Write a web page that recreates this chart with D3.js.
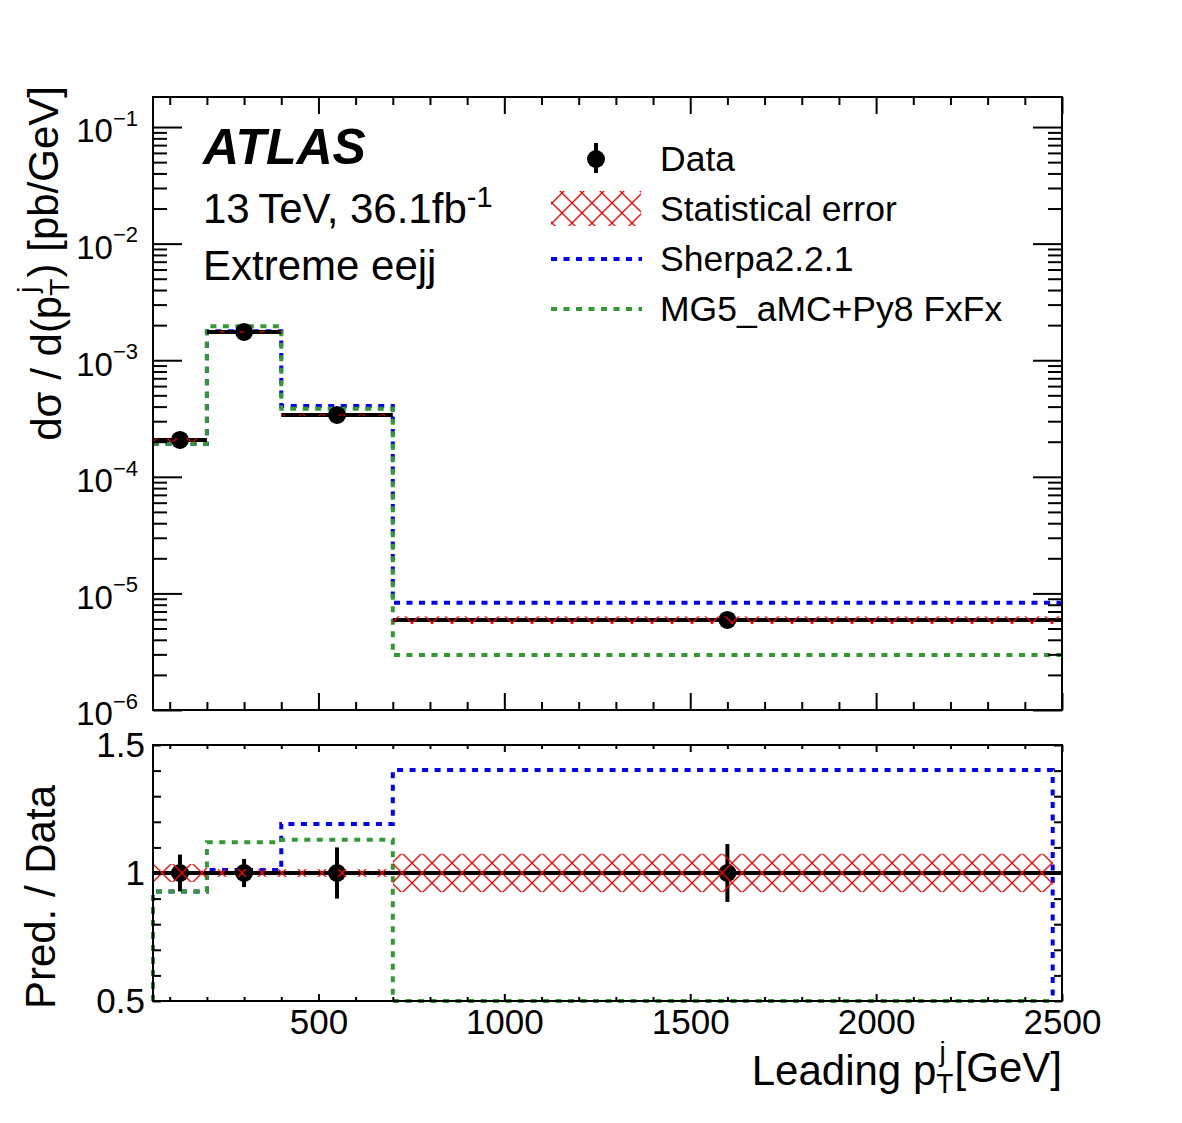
<!DOCTYPE html>
<html>
<head>
<meta charset="utf-8">
<script src="https://cdn.jsdelivr.net/npm/d3@7"></script>
<style>
body { margin: 0; background: #fff; }
text { font-family: "Liberation Sans", Arial, Helvetica, sans-serif; fill: #000; }
</style>
</head>
<body>
<div id="chart"></div>
<script>
// bins in leading jet pT [GeV]
const binEdges = [55, 200, 400, 700, 2500];
const dataValues = [2.07e-4, 1.75e-3, 3.39e-4, 5.92e-6];
const dataTotalErr = [0.072, 0.055, 0.10, 0.113];   // relative
const dataStatErr = [0.035, 0.015, 0.015, 0.075];   // relative
const sherpaValues = [1.92e-4, 1.77e-3, 4.04e-4, 8.3e-6];
const mg5Values = [1.92e-4, 1.96e-3, 3.83e-4, 2.96e-6];
const logExponents = [-6, -5, -4, -3, -2, -1];
const xTickLabels = [500, 1000, 1500, 2000, 2500];
const ratioTickLabels = [0.5, 1, 1.5];
const ratioEnd = 2475;

const W = 1182, H = 1123;
const left = 153, right = 1062;
const top1 = 97, bot1 = 710, top2 = 745, bot2 = 1001;

const svg = d3.select('#chart').append('svg')
    .attr('width', W)
    .attr('height', H);

const x = d3.scaleLinear().domain([55, 2500]).range([left, right]);
const y = d3.scaleLog().domain([1e-6, 0.181]).range([bot1, top1]);
const yR = d3.scaleLinear().domain([0.5, 1.5]).range([bot2, top2]);

const defs = svg.append('defs');
const pat = defs.append('pattern')
    .attr('id', 'hatch')
    .attr('patternUnits', 'userSpaceOnUse')
    .attr('width', 20).attr('height', 20)
    .attr('x', 2).attr('y', yR(1));
pat.append('path')
    .attr('d', 'M0,0L20,20M20,0L0,20')
    .attr('stroke', '#ff0000')
    .attr('stroke-width', 1.3)
    .attr('fill', 'none');

defs.append('clipPath').attr('id', 'clipTop')
    .append('rect').attr('x', left).attr('y', top1).attr('width', right - left).attr('height', bot1 - top1);
defs.append('clipPath').attr('id', 'clipRatio')
    .append('rect').attr('x', left - 2).attr('y', top2).attr('width', right - left + 4).attr('height', bot2 - top2 + 2);

const bins = dataValues.map((v, i) => ({
    lo: binEdges[i], hi: binEdges[i + 1], mid: (binEdges[i] + binEdges[i + 1]) / 2,
    data: v, tot: dataTotalErr[i], stat: dataStatErr[i],
    sherpa: sherpaValues[i], mg5: mg5Values[i]
}));

// ---------- top panel ----------
const gTop = svg.append('g').attr('clip-path', 'url(#clipTop)');

const stepLine = (vals, yScale) => {
    const pts = vals.map((v, i) => [binEdges[i], v]);
    pts.push([binEdges[binEdges.length - 1], vals[vals.length - 1]]);
    return d3.line().x(d => x(d[0])).y(d => yScale(d[1])).curve(d3.curveStepAfter)(pts);
};

const models = [
    {key: 'sherpa', color: '#0000ff'},
    {key: 'mg5', color: '#339933'}
];

models.forEach(m => {
    gTop.append('path')
        .attr('d', stepLine(bins.map(b => b[m.key]), y))
        .attr('fill', 'none')
        .attr('stroke', m.color)
        .attr('stroke-width', 4)
        .attr('stroke-dasharray', '6,6.5');
});

gTop.selectAll('.xerr').data(bins).enter().append('line')
    .attr('x1', d => x(d.lo)).attr('x2', d => x(d.hi))
    .attr('y1', d => y(d.data)).attr('y2', d => y(d.data))
    .attr('stroke', '#000').attr('stroke-width', 4);
gTop.selectAll('.yerr').data(bins).enter().append('line')
    .attr('x1', d => x(d.mid)).attr('x2', d => x(d.mid))
    .attr('y1', d => y(d.data * (1 + d.tot))).attr('y2', d => y(d.data * (1 - d.tot)))
    .attr('stroke', '#000').attr('stroke-width', 4);
gTop.selectAll('.pt').data(bins).enter().append('circle')
    .attr('cx', d => x(d.mid)).attr('cy', d => y(d.data)).attr('r', 9)
    .attr('fill', '#000');
gTop.selectAll('.stat').data(bins).enter().append('rect')
    .attr('x', d => x(d.lo)).attr('width', d => x(d.hi) - x(d.lo))
    .attr('y', d => y(d.data * (1 + d.stat)))
    .attr('height', d => y(d.data * (1 - d.stat)) - y(d.data * (1 + d.stat)))
    .attr('fill', 'url(#hatch)');

// ---------- ratio panel ----------
const gRat = svg.append('g').attr('clip-path', 'url(#clipRatio)');

const ratioLine = vals => {
    const pts = [[binEdges[0], 0.5]];
    vals.forEach((v, i) => { pts.push([binEdges[i], v]); pts.push([i === vals.length - 1 ? ratioEnd : binEdges[i + 1], v]); });
    pts.push([ratioEnd, 0.5]);
    return d3.line().x(d => x(d[0])).y(d => yR(Math.max(0.5, Math.min(1.5, d[1]))))(pts);
};

models.forEach(m => {
    gRat.append('path')
        .attr('d', ratioLine(bins.map(b => b[m.key] / b.data)))
        .attr('fill', 'none')
        .attr('stroke', m.color)
        .attr('stroke-width', 4)
        .attr('stroke-dasharray', '6,6.5');
});

gRat.append('line')
    .attr('x1', x(binEdges[0])).attr('x2', x(binEdges[binEdges.length - 1]))
    .attr('y1', yR(1)).attr('y2', yR(1))
    .attr('stroke', '#000').attr('stroke-width', 4);
gRat.selectAll('.yerr').data(bins).enter().append('line')
    .attr('x1', d => x(d.mid)).attr('x2', d => x(d.mid))
    .attr('y1', d => yR(1 + d.tot)).attr('y2', d => yR(1 - d.tot))
    .attr('stroke', '#000').attr('stroke-width', 4);
gRat.selectAll('.pt').data(bins).enter().append('circle')
    .attr('cx', d => x(d.mid)).attr('cy', yR(1)).attr('r', 9)
    .attr('fill', '#000');
gRat.selectAll('.stat').data(bins).enter().append('rect')
    .attr('x', d => x(d.lo))
    .attr('width', d => x(Math.min(d.hi, ratioEnd)) - x(d.lo))
    .attr('y', d => yR(1 + d.stat))
    .attr('height', d => yR(1 - d.stat) - yR(1 + d.stat))
    .attr('fill', 'url(#hatch)');

// ---------- axes ----------
const xMinor = d3.range(100, 2501, 100).filter(v => v % 500 !== 0);
const logMinor = [];
logExponents.forEach(e => { for (let k = 2; k <= 9; k++) if (k * Math.pow(10, e) < 0.181) logMinor.push(k * Math.pow(10, e)); });
const logMajor = logExponents.map(e => Math.pow(10, e));
const ratioMinor = d3.range(0.6, 1.45, 0.1);

const styleAxis = g => {
    g.select('.domain').remove();
    g.selectAll('line').attr('stroke', '#000').attr('stroke-width', 2);
    g.selectAll('text').style('font-size', '35px').attr('fill', '#000')
        .style('font-family', '"Liberation Sans", Arial, sans-serif');
};

// top panel x (bottom and top, no labels)
[[d3.axisBottom, bot1], [d3.axisTop, top1]].forEach(([ax, pos]) => {
    svg.append('g').attr('transform', 'translate(0,' + pos + ')')
        .call(ax(x).tickValues(xMinor).tickSize(-8).tickFormat('')).call(styleAxis);
    svg.append('g').attr('transform', 'translate(0,' + pos + ')')
        .call(ax(x).tickValues(xTickLabels).tickSize(-17).tickFormat('')).call(styleAxis);
});

// top panel y (log)
[[d3.axisLeft, left], [d3.axisRight, right]].forEach(([ax, pos]) => {
    svg.append('g').attr('transform', 'translate(' + pos + ',0)')
        .call(ax(y).tickValues(logMinor).tickSize(-14).tickFormat('')).call(styleAxis);
});
svg.append('g').attr('transform', 'translate(' + right + ',0)')
    .call(d3.axisRight(y).tickValues(logMajor).tickSize(-29).tickFormat('')).call(styleAxis);
const yAxisG = svg.append('g').attr('transform', 'translate(' + left + ',0)')
    .call(d3.axisLeft(y).tickValues(logMajor).tickSize(-29).tickPadding(15).tickFormat(''))
    .call(styleAxis);
yAxisG.selectAll('.tick text').style('font-size', '33px').each(function(d) {
    const t = d3.select(this).attr('dy', '0.45em');
    t.append('tspan').text('10');
    t.append('tspan').text('\u2212' + Math.round(-Math.log10(d)))
        .attr('dy', '-0.75em').style('font-size', '22px');
});

// ratio x
[[d3.axisBottom, bot2], [d3.axisTop, top2]].forEach(([ax, pos]) => {
    svg.append('g').attr('transform', 'translate(0,' + pos + ')')
        .call(ax(x).tickValues(xMinor).tickSize(-4).tickFormat('')).call(styleAxis);
});
svg.append('g').attr('transform', 'translate(0,' + top2 + ')')
    .call(d3.axisTop(x).tickValues(xTickLabels).tickSize(-7).tickFormat('')).call(styleAxis);
svg.append('g').attr('transform', 'translate(0,' + bot2 + ')')
    .call(d3.axisBottom(x).tickValues(xTickLabels).tickSize(-7).tickPadding(8).tickFormat(d3.format('d')))
    .call(styleAxis);

// ratio y
[[d3.axisLeft, left], [d3.axisRight, right]].forEach(([ax, pos]) => {
    svg.append('g').attr('transform', 'translate(' + pos + ',0)')
        .call(ax(yR).tickValues(ratioMinor).tickSize(-8).tickFormat('')).call(styleAxis);
});
svg.append('g').attr('transform', 'translate(' + right + ',0)')
    .call(d3.axisRight(yR).tickValues(ratioTickLabels).tickSize(-8).tickFormat('')).call(styleAxis);
svg.append('g').attr('transform', 'translate(' + left + ',0)')
    .call(d3.axisLeft(yR).tickValues(ratioTickLabels).tickSize(-8).tickPadding(8).tickFormat(d => d))
    .call(styleAxis);

// frames
[[top1, bot1], [top2, bot2]].forEach(([t, b]) => {
    svg.append('rect')
        .attr('x', left).attr('y', t)
        .attr('width', right - left).attr('height', b - t)
        .attr('fill', 'none').attr('stroke', '#000').attr('stroke-width', 2);
});

// ---------- titles ----------
const yTitle = svg.append('text')
    .attr('transform', 'translate(61,86) rotate(-90)')
    .attr('text-anchor', 'end')
    .style('font-size', '42px');
yTitle.append('tspan').text('d\u03c3 / d(p');
yTitle.append('tspan').text('T').attr('dy', '0.3em').style('font-size', '28px');
yTitle.append('tspan').text('j').attr('dx', '-14px').attr('dy', '-1.15em').style('font-size', '28px');
yTitle.append('tspan').text(') [pb/GeV]').attr('dx', '9px').attr('dy', '0.5em');

svg.append('text')
    .attr('transform', 'translate(55,785) rotate(-90)')
    .attr('text-anchor', 'end')
    .style('font-size', '42px')
    .text('Pred. / Data');

const xTitle = svg.append('text')
    .attr('x', right).attr('y', 1085)
    .attr('text-anchor', 'end')
    .style('font-size', '42px');
xTitle.append('tspan').text('Leading p');
xTitle.append('tspan').text('T').attr('dy', '0.3em').style('font-size', '28px');
xTitle.append('tspan').text('j').attr('dx', '-14px').attr('dy', '-1.15em').style('font-size', '28px');
xTitle.append('tspan').text('[GeV]').attr('dx', '9px').attr('dy', '0.5em');

// ---------- labels ----------
svg.append('text')
    .attr('x', 203).attr('y', 164)
    .style('font-size', '50px').style('font-weight', 'bold').style('font-style', 'italic')
    .text('ATLAS');
const lumi = svg.append('text')
    .attr('x', 203).attr('y', 223)
    .style('font-size', '42px');
lumi.append('tspan').text('13\u2009TeV, 36.1fb');
lumi.append('tspan').text('-1').attr('dy', '-0.55em').style('font-size', '29px');
svg.append('text')
    .attr('x', 203).attr('y', 280)
    .style('font-size', '42px')
    .text('Extreme eejj');

// ---------- legend ----------
const legendNames = ['Data', 'Statistical error', 'Sherpa2.2.1', 'MG5_aMC+Py8 FxFx'];
const legend = svg.append('g');
legendNames.forEach((name, i) => {
    const cy = 159 + i * 50;
    if (i === 0) {
        legend.append('line').attr('x1', 596).attr('x2', 596).attr('y1', cy - 16).attr('y2', cy + 14)
            .attr('stroke', '#000').attr('stroke-width', 4);
        legend.append('circle').attr('cx', 596).attr('cy', cy).attr('r', 9).attr('fill', '#000');
    } else if (i === 1) {
        legend.append('rect').attr('x', 551).attr('y', cy - 18).attr('width', 90).attr('height', 35)
            .attr('fill', 'url(#hatch)');
    } else {
        legend.append('line').attr('x1', 551).attr('x2', 642).attr('y1', cy).attr('y2', cy)
            .attr('stroke', models[i - 2].color).attr('stroke-width', 4).attr('stroke-dasharray', '6,6.5');
    }
    legend.append('text')
        .attr('x', 660).attr('y', cy + 12)
        .style('font-size', '35.5px')
        .text(name);
});
</script>
</body>
</html>
